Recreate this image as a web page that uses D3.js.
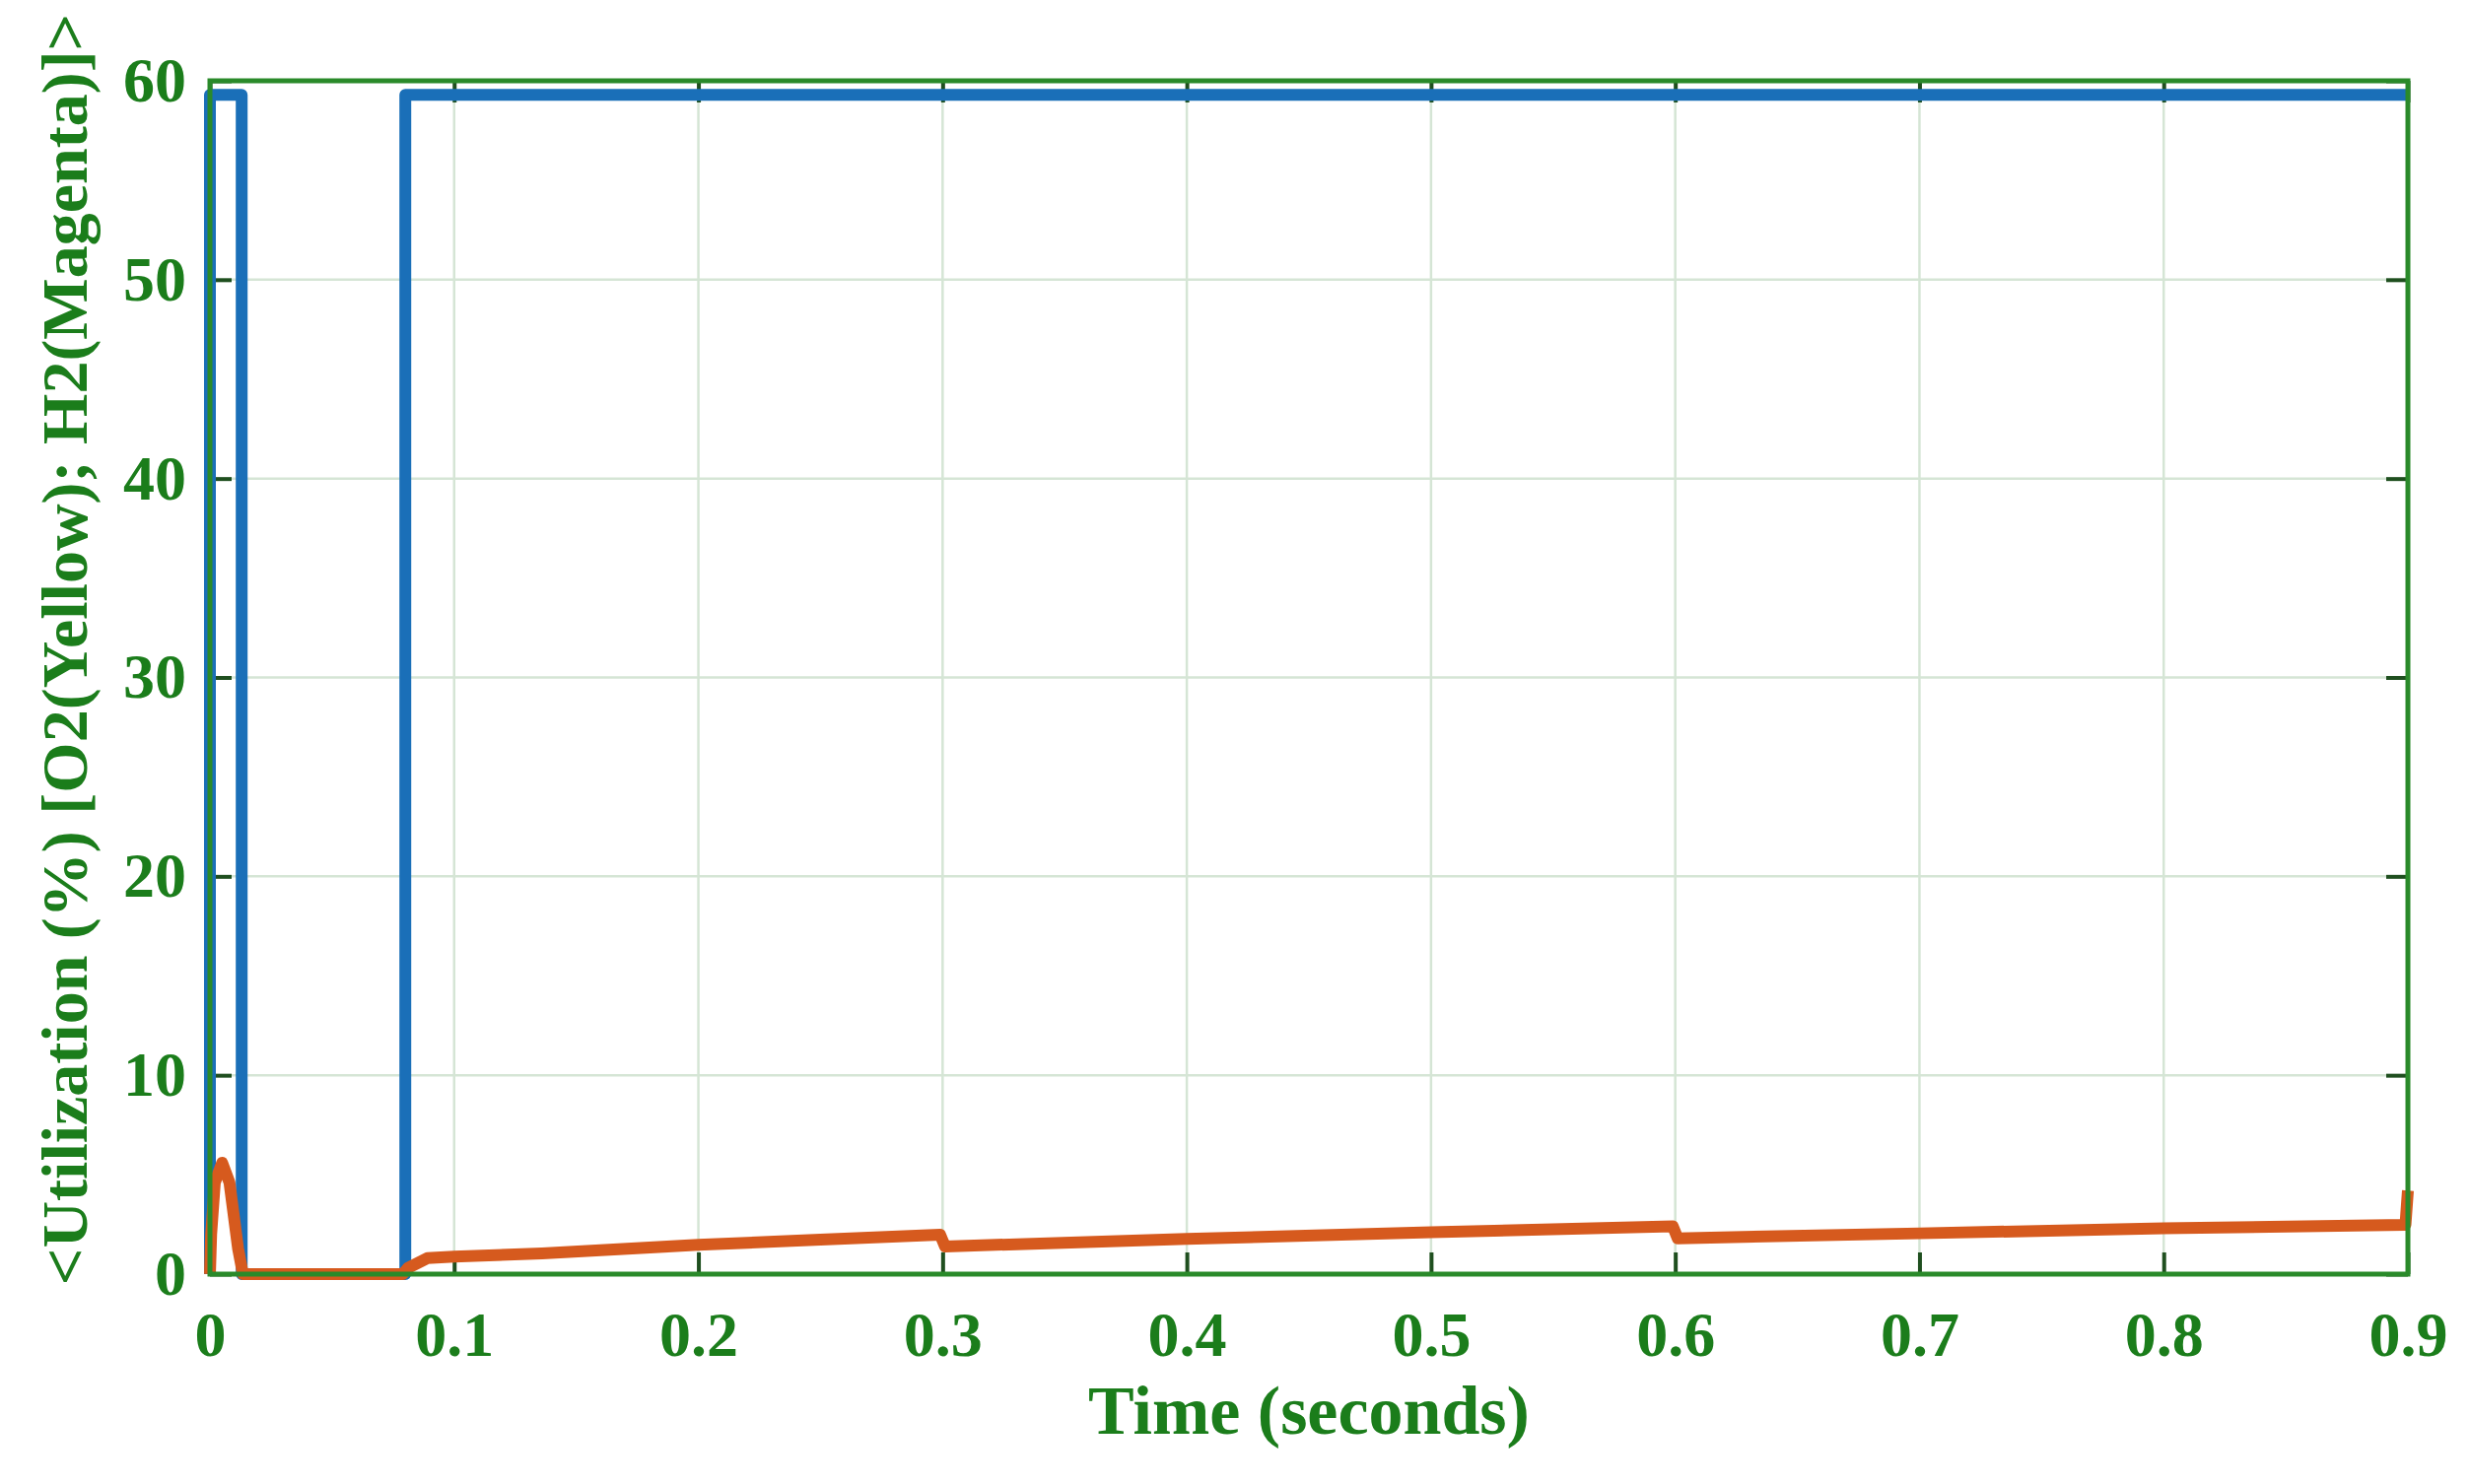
<!DOCTYPE html>
<html>
<head>
<meta charset="utf-8">
<script src="https://cdn.jsdelivr.net/npm/d3@7"></script>
<style>
  body { margin: 0; background: #fff; }
  svg text { font-family: "Liberation Serif", "Times New Roman", serif; font-weight: bold; fill: #1b7d1b; }
</style>
</head>
<body>
<div id="chart"></div>
<script>
// blue trace (step signal)
const blueTime = [0, 0, 0.013, 0.013, 0.08, 0.08, 0.9];
const blueValue = [0, 59.3, 59.3, 0, 0, 59.3, 59.3];

// orange trace
const orangeTime = [0, 0.0005, 0.002, 0.005, 0.008, 0.0115, 0.0135, 0.079, 0.081, 0.089, 0.1, 0.136, 0.2, 0.25, 0.299, 0.301, 0.4, 0.5, 0.599, 0.601, 0.7, 0.8, 0.899, 0.9];
const orangeValue = [0, 2.0, 4.6, 5.6, 4.6, 1.3, 0, 0, 0.3, 0.8, 0.88, 1.04, 1.47, 1.74, 1.98, 1.39, 1.77, 2.1, 2.4, 1.8, 2.05, 2.3, 2.48, 4.2];

// ticks
const xTicks = [0, 0.1, 0.2, 0.3, 0.4, 0.5, 0.6, 0.7, 0.8, 0.9];
const yTicks = [0, 10, 20, 30, 40, 50, 60];

const width = 2506;
const height = 1506;
const margin = { top: 82, right: 63, bottom: 213, left: 213 };

const svg = d3.select("#chart")
    .append("svg")
    .attr("width", width)
    .attr("height", height);

const xScale = d3.scaleLinear()
    .domain([0, 0.9])
    .range([margin.left, width - margin.right]);

const yScale = d3.scaleLinear()
    .domain([0, 60])
    .range([height - margin.bottom, margin.top]);

// grid
svg.append("g").selectAll("line")
    .data(xTicks)
    .enter()
    .append("line")
    .attr("x1", d => xScale(d))
    .attr("x2", d => xScale(d))
    .attr("y1", yScale(60))
    .attr("y2", yScale(0))
    .attr("stroke", "#d5e5d5")
    .attr("stroke-width", 2.5);

svg.append("g").selectAll("line")
    .data(yTicks)
    .enter()
    .append("line")
    .attr("x1", xScale(0))
    .attr("x2", xScale(0.9))
    .attr("y1", d => yScale(d))
    .attr("y2", d => yScale(d))
    .attr("stroke", "#d5e5d5")
    .attr("stroke-width", 2.5);

// axes, ticks pointing inward
const tickLen = 22;
const xAxis = svg.append("g")
    .attr("transform", `translate(0,${yScale(0)})`)
    .call(d3.axisBottom(xScale).tickValues(xTicks).tickFormat(d => d3.format("")(d))
        .tickSizeInner(-tickLen).tickSizeOuter(0).tickPadding(38));

const yAxis = svg.append("g")
    .attr("transform", `translate(${xScale(0)},0)`)
    .call(d3.axisLeft(yScale).tickValues(yTicks)
        .tickSizeInner(-tickLen).tickSizeOuter(0).tickPadding(24));

const topAxis = svg.append("g")
    .attr("transform", `translate(0,${yScale(60)})`)
    .call(d3.axisTop(xScale).tickValues(xTicks).tickFormat("")
        .tickSizeInner(-tickLen).tickSizeOuter(0));

const rightAxis = svg.append("g")
    .attr("transform", `translate(${xScale(0.9)},0)`)
    .call(d3.axisRight(yScale).tickValues(yTicks).tickFormat("")
        .tickSizeInner(-tickLen).tickSizeOuter(0));

[xAxis, yAxis, topAxis, rightAxis].forEach(g => {
    g.select(".domain").remove();
    g.selectAll(".tick line").attr("stroke", "#1f4f1f").attr("stroke-width", 4);
    g.selectAll(".tick text").attr("font-size", 64).attr("fill", "#1b7d1b");
});

// lines
const line = d3.line()
    .x(d => xScale(d[0]))
    .y(d => yScale(d[1]));

svg.append("path")
    .datum(blueTime.map((t, i) => [t, blueValue[i]]))
    .attr("d", line)
    .attr("fill", "none")
    .attr("stroke", "#1a6fb8")
    .attr("stroke-width", 12)
    .attr("stroke-linejoin", "round");

svg.append("path")
    .datum(orangeTime.map((t, i) => [t, orangeValue[i]]))
    .attr("d", line)
    .attr("fill", "none")
    .attr("stroke", "#d65a1e")
    .attr("stroke-width", 12)
    .attr("stroke-linejoin", "round");

// frame
svg.append("rect")
    .attr("x", xScale(0))
    .attr("y", yScale(60))
    .attr("width", xScale(0.9) - xScale(0))
    .attr("height", yScale(0) - yScale(60))
    .attr("fill", "none")
    .attr("stroke", "#2a8a2a")
    .attr("stroke-width", 5);

// axis titles
svg.append("text")
    .attr("x", (xScale(0) + xScale(0.9)) / 2)
    .attr("y", 1455)
    .attr("text-anchor", "middle")
    .attr("font-size", 70)
    .text("Time (seconds)");

svg.append("text")
    .attr("transform", "translate(88,659) rotate(-90)")
    .attr("text-anchor", "middle")
    .attr("font-size", 66)
    .text("<Utilization (%) [O2(Yellow); H2(Magenta)]>");
</script>
</body>
</html>
